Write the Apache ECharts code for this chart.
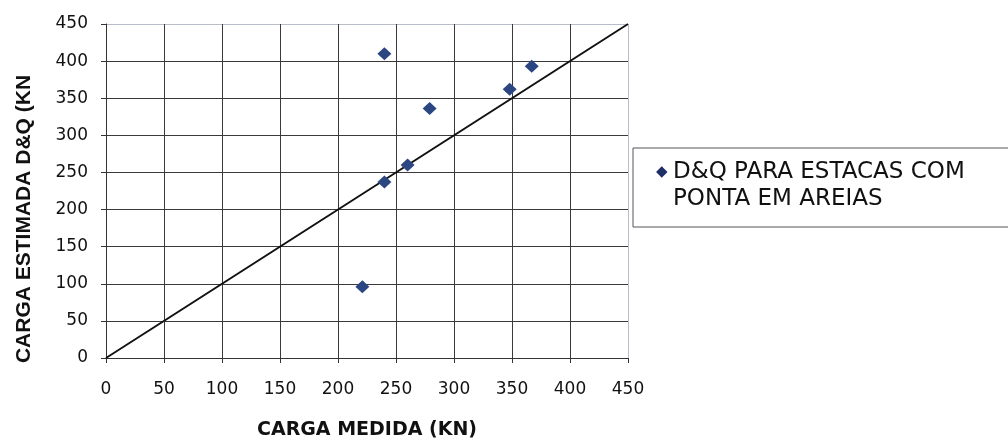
<!DOCTYPE html>
<html>
<head>
<meta charset="utf-8">
<script src="https://cdn.jsdelivr.net/npm/echarts@6/dist/echarts.min.js"></script>
<style>
  html, body { margin: 0; padding: 0; background: #ffffff; }
  #chart { width: 1008px; height: 439px; }
</style>
</head>
<body>
<div id="chart"></div>
<script>
// ---- data ----
const seriesName = 'D&Q PARA ESTACAS COM PONTA EM AREIAS';
const measuredLoad = [240, 367, 348, 279, 260, 240, 221];   // CARGA MEDIDA (KN)
const estimatedLoad = [410, 393, 362, 336, 260, 237, 96];   // CARGA ESTIMADA D&Q (KN)
const lineX = [0, 450];
const lineY = [0, 450];
const axisMin = 0;
const axisMax = 450;
const axisStep = 50;
const xTitle = 'CARGA MEDIDA (KN)';
const yTitle = 'CARGA ESTIMADA D&Q (KN';
const legendLines = ['D&Q PARA ESTACAS COM', 'PONTA EM AREIAS'];

const scatterData = measuredLoad.map((x, i) => [x, estimatedLoad[i]]);
const lineData = lineX.map((x, i) => [x, lineY[i]]);

const nLines = (axisMax - axisMin) / axisStep + 1;
const splitColors = [];
for (let i = 0; i < nLines; i++) splitColors.push(i === nLines - 1 ? '#b9bccb' : '#3a3a3a');

const labelFont = { fontFamily: 'DejaVu Sans', fontSize: 17, color: '#111' };

const chart = echarts.init(document.getElementById('chart'), null, { renderer: 'canvas' });
chart.setOption({
  animation: false,
  backgroundColor: '#ffffff',
  grid: { left: 106, right: 380, top: 24, bottom: 81, containLabel: false, outerBoundsMode: 'none' },
  xAxis: {
    type: 'value', min: axisMin, max: axisMax, interval: axisStep,
    name: xTitle, nameLocation: 'middle', nameGap: 63,
    nameTextStyle: { fontFamily: 'DejaVu Sans', fontWeight: 'bold', fontSize: 19, color: '#111' },
    axisLine: { show: true, lineStyle: { color: '#333', width: 1 } },
    axisTick: { show: true, inside: false, length: 5, lineStyle: { color: '#333' } },
    axisLabel: Object.assign({ margin: 23 }, labelFont),
    splitLine: { show: true, lineStyle: { color: splitColors, width: 1 } }
  },
  yAxis: {
    type: 'value', min: axisMin, max: axisMax, interval: axisStep,
    name: yTitle, nameLocation: 'middle', nameGap: 71,
    nameTextStyle: { fontFamily: 'Liberation Sans', fontWeight: 'bold', fontSize: 21, color: '#111',
                     padding: [0, 56, 0, 0] },
    axisLine: { show: true, lineStyle: { color: '#333', width: 1 } },
    axisTick: { show: true, inside: false, length: 5, lineStyle: { color: '#333' } },
    axisLabel: Object.assign({ margin: 18 }, labelFont),
    splitLine: { show: true, lineStyle: { color: splitColors, width: 1 } }
  },
  legend: {
    data: [{ name: seriesName, icon: 'none' }],
    left: 633, top: 148,
    orient: 'vertical',
    itemWidth: 0, itemHeight: 10, itemGap: 0,
    padding: [13, 80, 16, 18],
    borderColor: '#555', borderWidth: 1,
    selectedMode: false,
    formatter: function () {
      return '{i|\u25C6}{t|' + legendLines[0] + '}\n{i| }{t|' + legendLines[1] + '}';
    },
    textStyle: {
      align: 'left',
      rich: {
        i: { width: 17, fontSize: 15, fontFamily: 'DejaVu Sans', color: '#1f2f66', lineHeight: 27 },
        t: { fontSize: 23, fontFamily: 'DejaVu Sans', color: '#111', lineHeight: 27 }
      }
    }
  },
  series: [
    {
      name: 'linha',
      type: 'line',
      data: lineData,
      showSymbol: false,
      symbol: 'none',
      lineStyle: { color: '#111', width: 2 },
      z: 3,
      silent: true
    },
    {
      name: seriesName,
      type: 'scatter',
      data: scatterData,
      symbol: 'diamond',
      symbolSize: [14, 13],
      itemStyle: { color: '#2c4682', opacity: 1 },
      z: 4
    }
  ]
});
</script>
</body>
</html>
